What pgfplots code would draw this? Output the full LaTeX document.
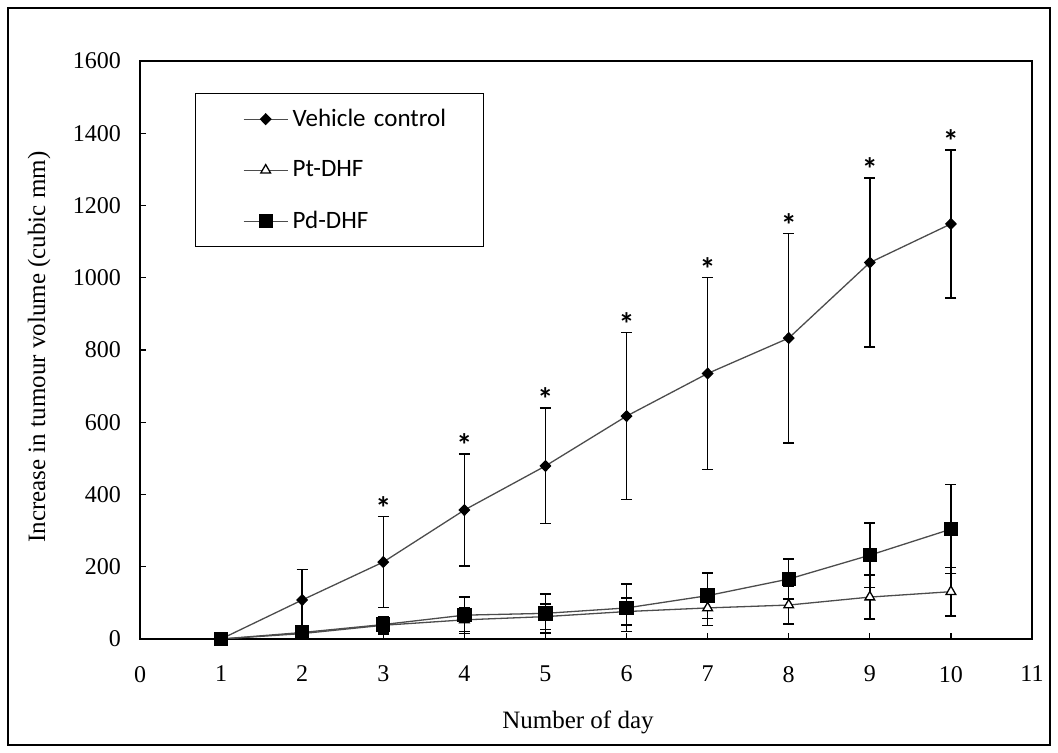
\documentclass[border=0pt]{standalone}
\usepackage{fontspec}
\setmainfont{Liberation Serif}
\newfontfamily\calibri{Carlito}
\usepackage{pgfplots}
\pgfplotsset{compat=1.18}

\begin{document}
\begin{tikzpicture}
\useasboundingbox (0,0) rectangle (529pt,376.5pt);
% chart area frame
\draw[line width=0.65pt] (4pt,4pt) rectangle (525pt,372.5pt);
\begin{axis}[
    at={(70pt,57pt)}, anchor=south west,
    scale only axis, width=446pt, height=289pt,
    xmin=0, xmax=11, ymin=0, ymax=1600,
    xtick={0,1,...,11}, ytick={0,200,...,1600},
    tick align=inside, tick pos=left, major tick length=3pt,
    axis line style={line width=0.65pt},
    tick style={line width=0.65pt, black},
    /pgf/number format/assume math mode=true,
    /pgf/number format/1000 sep={},
    ticklabel style={font=\fontsize{12}{14}\selectfont},
    xticklabel style={yshift=-10pt},
    yticklabel style={xshift=-6pt},
    xlabel={Number of day},
    ylabel={Increase in tumour volume (cubic mm)},
    label style={font=\fontsize{12.5}{15}\selectfont},
    xlabel style={at={(axis description cs:0.491,-0.154)}, anchor=base},
    ylabel style={at={(axis description cs:-0.1132,0.505)}, anchor=center},
    legend style={at={(axis description cs:0.0617,0.9446)}, anchor=north west,
        draw=black, line width=0.65pt, inner xsep=0pt, inner ysep=0pt,
        row sep=0pt, column sep=0pt,
        font=\calibri\fontsize{12.5}{15}\selectfont,
        nodes={inner sep=0pt, minimum height=25.5pt, text width=95.5pt}},
    legend cell align=left,
    legend image code/.code={
        \path[draw=none, fill=none] (-24pt,0pt) -- (24.5pt,0pt);
        \draw[mark repeat=2, mark phase=2] plot coordinates {(0pt,0pt) (11pt,0pt) (22pt,0pt)};},
    error bars/y dir=both, error bars/y explicit,
    error bars/error bar style={black, line width=0.7pt},
    error bars/error mark options={rotate=90, mark size=2.75pt, black, line width=0.7pt},
]
% Vehicle control
\addplot[color=black!70, line width=0.65pt, mark=diamond*, mark size=2.6pt,
    mark options={fill=black, draw=black, xscale=1.3}]
coordinates {
(1,0) +- (0,0)
(2,108) +- (0,85)
(3,213) +- (0,126)
(4,357) +- (0,155)
(5,479) +- (0,160)
(6,617) +- (0,231)
(7,735) +- (0,266)
(8,833) +- (0,290)
(9,1042) +- (0,234)
(10,1149) +- (0,205)
};
% Pt-DHF
\addplot[color=black!70, line width=0.65pt, mark=triangle*, mark size=2.8pt,
    mark options={fill=white, draw=black}]
coordinates {
(1,0) +- (0,0)
(2,15) +- (0,8)
(3,38) +- (0,24)
(4,53) +- (0,33)
(5,62) +- (0,35)
(6,76) +- (0,37)
(7,86) +- (0,49)
(8,94) +- (0,52)
(9,116) +- (0,61)
(10,131) +- (0,67)
};
% Pd-DHF
\addplot[color=black!70, line width=0.65pt, mark=square*, mark size=3.25pt,
    mark options={fill=black, draw=black}]
coordinates {
(1,0) +- (0,0)
(2,18) +- (0,10)
(3,40) +- (0,23)
(4,66) +- (0,50)
(5,71) +- (0,54)
(6,86) +- (0,66)
(7,120) +- (0,63)
(8,166) +- (0,55)
(9,232) +- (0,89)
(10,304) +- (0,123)
};
% significance markers
\addplot[forget plot, only marks, mark=text, text mark={*}, text mark as node=true,
    text mark style={font=\calibri\bfseries\fontsize{16}{16}\selectfont, yshift=-2.5pt},
    error bars/y dir=none]
coordinates {
(3,377) (4,550) (5,677) (6,886) (7,1039) (8,1161) (9,1314) (10,1392)
};
\legend{Vehicle control, Pt-DHF, Pd-DHF}
\end{axis}
\end{tikzpicture}
\end{document}
